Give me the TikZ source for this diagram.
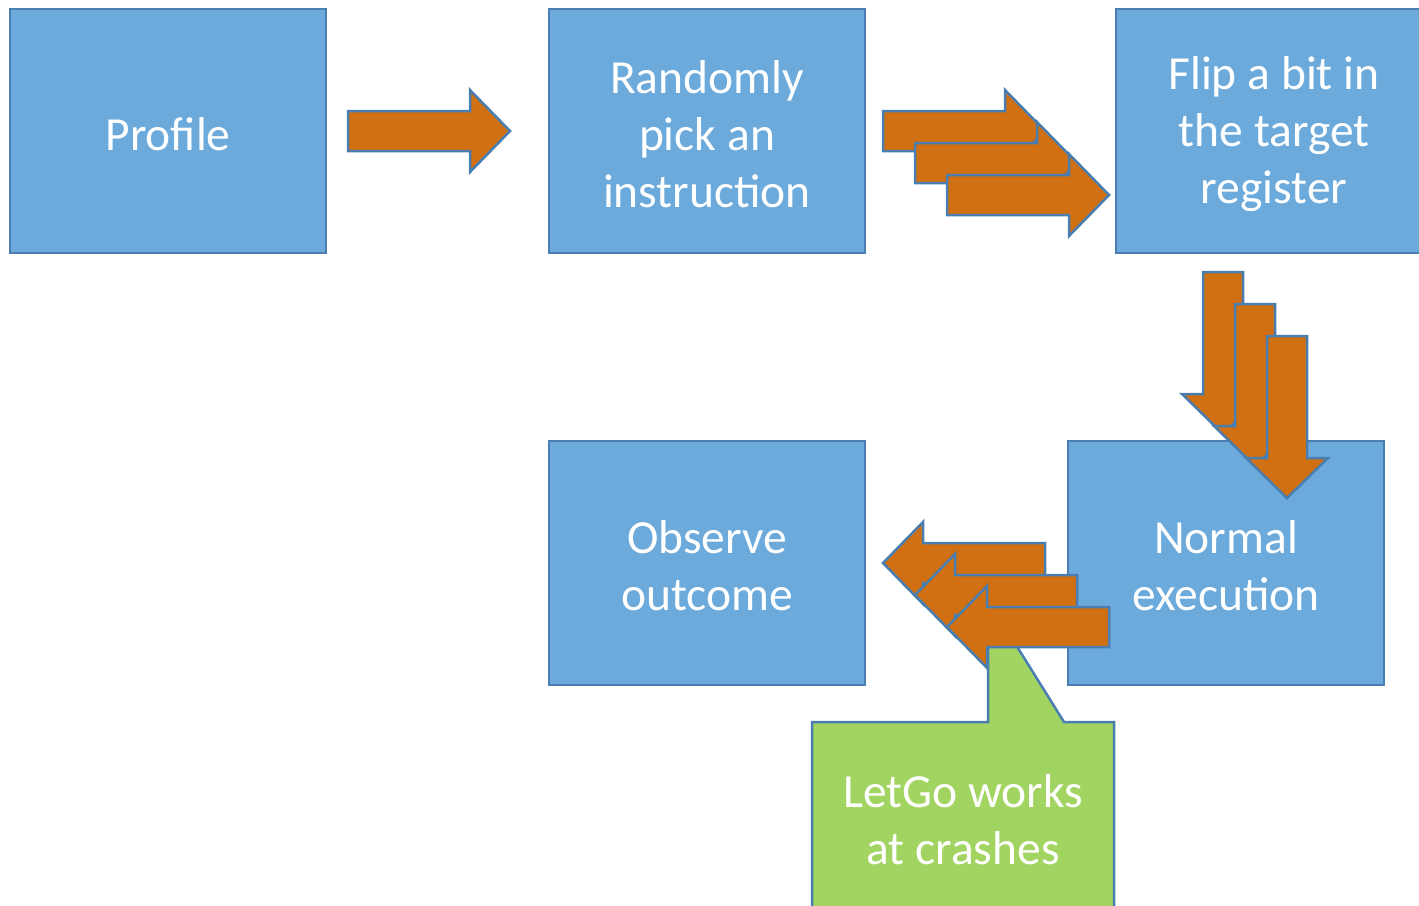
\documentclass[tikz,border=0pt]{standalone}
\usepackage{fontspec}
\setmainfont{Carlito}
\definecolor{boxfill}{HTML}{6CAADC}
\definecolor{edge}{HTML}{4A7EB0}
\definecolor{arrowfill}{HTML}{D07012}
\definecolor{notefill}{HTML}{A2D462}
\begin{document}
\begin{tikzpicture}[x=1pt,y=-1pt,
  stepbox/.style={draw=edge, fill=boxfill, line width=2.5pt, minimum width=316pt,
    minimum height=244pt, inner sep=0pt},
  steptext/.style={text=white, align=center, inner sep=0pt, yshift=-3pt,
    font=\fontsize{47.5}{57}\selectfont},
  blockarrow/.style={draw=edge, fill=arrowfill, line width=2.5pt, line join=miter},
  barrow/.pic={\path[blockarrow] (0,0) -- (-40,-41) -- (-40,-20) -- (-162,-20)
    -- (-162,20) -- (-40,20) -- (-40,41) -- cycle;}
]
\useasboundingbox (0,0) rectangle (1419,905);
\clip (0,0) rectangle (1419,905);

% process steps
\node[stepbox, label={[steptext]center:Profile}] (profile) at (168,131) {};
\node[stepbox, label={[steptext]center:Randomly\\pick an\\instruction}] (pick) at (707,131) {};
\node[stepbox, label={[steptext]center:Flip a bit in\\the target\\register}] (flip) at (1274,131) {};
\node[stepbox, label={[steptext]center:Normal\\execution}] (normal) at (1226,563) {};
\node[stepbox, label={[steptext]center:Observe\\outcome}] (observe) at (707,563) {};

% note with pointer
\path[draw=edge, fill=notefill, line width=2.5pt]
  (812,722) -- (988,722) -- (988,600) -- (1064,722) -- (1114,722)
  -- (1114,918) -- (812,918) -- cycle;
\node[steptext] (note) at (963,817) {LetGo works\\at crashes};

% flow arrows
\pic at (510,131) {barrow};

\pic at (1045,131) {barrow};
\pic at (1077,163) {barrow};
\pic at (1109,195) {barrow};

\pic[rotate=-90] at (1223,434) {barrow};
\pic[rotate=-90] at (1255,466) {barrow};
\pic[rotate=-90] at (1287,498) {barrow};

\pic[rotate=180] at (883,563) {barrow};
\pic[rotate=180] at (915,595) {barrow};
\pic[rotate=180] at (947,627) {barrow};
\end{tikzpicture}
\end{document}
